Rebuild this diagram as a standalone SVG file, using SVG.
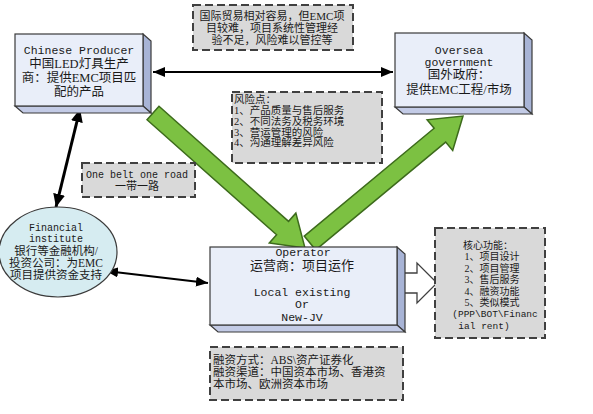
<svg xmlns="http://www.w3.org/2000/svg" width="593" height="414" viewBox="0 0 593 414">
<defs>
<style>
.front{fill:#e9eef9;stroke:#3a3a3a;stroke-width:1.2}
.side{fill:#a8b4d6;stroke:#3a3a3a;stroke-width:1.2}
.bottom{fill:#c3cbe6;stroke:#3a3a3a;stroke-width:1.2}
.note{fill:#d9d9d9;stroke:#404040;stroke-width:2;stroke-dasharray:8 4}
.mono{font-family:"Liberation Mono","DejaVu Sans Mono",monospace;fill:#1a1a1a}
.cjk{font-family:"Liberation Serif","Noto Sans CJK SC",serif;fill:#1a1a1a}
.green{fill:#7cc142;stroke:#3d6b1c;stroke-width:1.5;stroke-linejoin:miter}
.conn{fill:none;stroke:#000;stroke-width:2}
.connT{fill:none;stroke:#000;stroke-width:3}
</style>
<marker id="ah" viewBox="0 0 12 10" refX="12" refY="5" markerWidth="12" markerHeight="10" markerUnits="userSpaceOnUse" orient="auto-start-reverse">
<path d="M0,0 L12,5 L0,10 z" fill="#000"/>
</marker>
<marker id="ahL" viewBox="0 0 13 12" refX="13" refY="6" markerWidth="13" markerHeight="12" markerUnits="userSpaceOnUse" orient="auto-start-reverse">
<path d="M0,0 L13,6 L0,12 z" fill="#000"/>
</marker>
</defs>
<rect width="593" height="414" fill="#fff"/>

<g id="connectors">
<line class="conn" x1="153" y1="72" x2="393" y2="72" marker-start="url(#ah)" marker-end="url(#ah)"/>
<line class="connT" x1="80" y1="109" x2="56" y2="207" marker-start="url(#ahL)" marker-end="url(#ahL)"/>
<line class="conn" x1="106" y1="271" x2="208" y2="283" marker-start="url(#ah)" marker-end="url(#ah)"/>
<polygon class="green" points="315.75,249.93 304.25,236.07 434.16,128.23 427.13,119.77 463,116 452.69,150.55 445.66,142.09"/>
<polygon class="green" points="147.02,119.73 158.98,106.27 288.55,221.35 295.85,213.13 305,248 269.29,243.03 276.59,234.81"/>
<polygon points="404,273 417,273 417,263 437,283 417,303 417,293 404,293" fill="#fff" stroke="#404040" stroke-width="1.3"/>
</g>

<g id="note-trade">
<rect class="note" x="193" y="5" width="160" height="45"/>
<text class="cjk" font-size="11" text-anchor="middle" x="272" y="20">国际贸易相对容易，但EMC项</text>
<text class="cjk" font-size="11" text-anchor="middle" x="272" y="32">目较难，项目系统性管理经</text>
<text class="cjk" font-size="11" text-anchor="middle" x="272" y="44">验不足，风险难以管控等</text>
</g>

<g id="producer">
<polygon class="side" points="143,34 151,41 151,113 143,106"/>
<polygon class="bottom" points="15,106 23,113 151,113 143,106"/>
<rect class="front" x="15" y="34" width="128" height="72"/>
<text class="mono" font-size="11.5" text-anchor="middle" x="79" y="54">Chinese Producer</text>
<text class="cjk" font-size="12.5" text-anchor="middle" x="79" y="68">中国LED灯具生产</text>
<text class="cjk" font-size="12.5" text-anchor="middle" x="79" y="82">商：提供EMC项目匹</text>
<text class="cjk" font-size="12.5" text-anchor="middle" x="79" y="95.5">配的产品</text>
</g>

<g id="oversea">
<polygon class="side" points="524,33 532,40 532,114 524,107"/>
<polygon class="bottom" points="395,107 403,114 532,114 524,107"/>
<rect class="front" x="395" y="33" width="129" height="74"/>
<text class="mono" font-size="11.5" text-anchor="middle" x="459" y="54">Oversea</text>
<text class="mono" font-size="11.5" text-anchor="middle" x="459" y="66">government</text>
<text class="cjk" font-size="12.5" text-anchor="middle" x="459" y="79">国外政府：</text>
<text class="cjk" font-size="12.5" text-anchor="middle" x="459" y="94">提供EMC工程/市场</text>
</g>

<g id="note-risk">
<rect class="note" x="232" y="92" width="150" height="71"/>
<text class="cjk" font-size="10.5" x="234" y="103">风险点：</text>
<text class="cjk" font-size="10.5" x="234" y="114">1、产品质量与售后服务</text>
<text class="cjk" font-size="10.5" x="234" y="124.8">2、不同法务及税务环境</text>
<text class="cjk" font-size="10.5" x="234" y="135.6">3、营运管理的风险</text>
<text class="cjk" font-size="10.5" x="234" y="146.4">4、沟通理解差异风险</text>
</g>

<g id="note-belt">
<rect class="note" x="82" y="163" width="113" height="34"/>
<text class="mono" font-size="10" text-anchor="middle" x="137" y="178">One belt one road</text>
<text class="cjk" font-size="11" text-anchor="middle" x="137" y="190">一带一路</text>
</g>

<g id="financial">
<ellipse cx="58" cy="252" rx="59" ry="45" fill="#d6ecf1" stroke="#3a3a3a" stroke-width="1.2"/>
<text class="mono" font-size="10" text-anchor="middle" x="56" y="231">Financial</text>
<text class="mono" font-size="10" text-anchor="middle" x="56" y="242">institute</text>
<text class="cjk" font-size="11.5" text-anchor="middle" x="56" y="255">银行等金融机构/</text>
<text class="cjk" font-size="11.5" text-anchor="middle" x="56" y="267">投资公司：为EMC</text>
<text class="cjk" font-size="11.5" text-anchor="middle" x="56" y="279">项目提供资金支持</text>
</g>

<g id="operator">
<polygon class="side" points="397,247 405,254 405,332 397,325"/>
<polygon class="bottom" points="210,325 218,332 405,332 397,325"/>
<rect class="front" x="210" y="247" width="187" height="78"/>
<text class="mono" font-size="11.5" text-anchor="middle" x="303" y="256">Operator</text>
<text class="cjk" font-size="13" text-anchor="middle" x="302" y="270">运营商：项目运作</text>
<text class="mono" font-size="11.5" text-anchor="middle" x="302" y="295.5">Local existing</text>
<text class="mono" font-size="11.5" text-anchor="middle" x="302" y="308">Or</text>
<text class="mono" font-size="11.5" text-anchor="middle" x="302" y="320.5">New-JV</text>
</g>

<g id="core-functions">
<rect class="note" x="435" y="228" width="110" height="110"/>
<text class="cjk" font-size="10" text-anchor="middle" x="488" y="249">核心功能：</text>
<text class="cjk" font-size="10" text-anchor="middle" x="492" y="260.4">1、项目设计</text>
<text class="cjk" font-size="10" text-anchor="middle" x="492" y="271.8">2、项目管理</text>
<text class="cjk" font-size="10" text-anchor="middle" x="492" y="283.2">3、售后服务</text>
<text class="cjk" font-size="10" text-anchor="middle" x="492" y="294.6">4、融资功能</text>
<text class="cjk" font-size="10" text-anchor="middle" x="492" y="306">5、类似模式</text>
<text class="mono" font-size="9.5" text-anchor="middle" x="495" y="317.4">(PPP\BOT\Financ</text>
<text class="mono" font-size="9.5" text-anchor="middle" x="484" y="328.8">ial rent)</text>
</g>

<g id="note-finance">
<rect class="note" x="210" y="347" width="193" height="53"/>
<text class="cjk" font-size="11.5" x="213" y="364">融资方式：ABS\资产证券化</text>
<text class="cjk" font-size="11.5" x="213" y="376">融资渠道：中国资本市场、香港资</text>
<text class="cjk" font-size="11.5" x="213" y="388">本市场、欧洲资本市场</text>
</g>
</svg>
